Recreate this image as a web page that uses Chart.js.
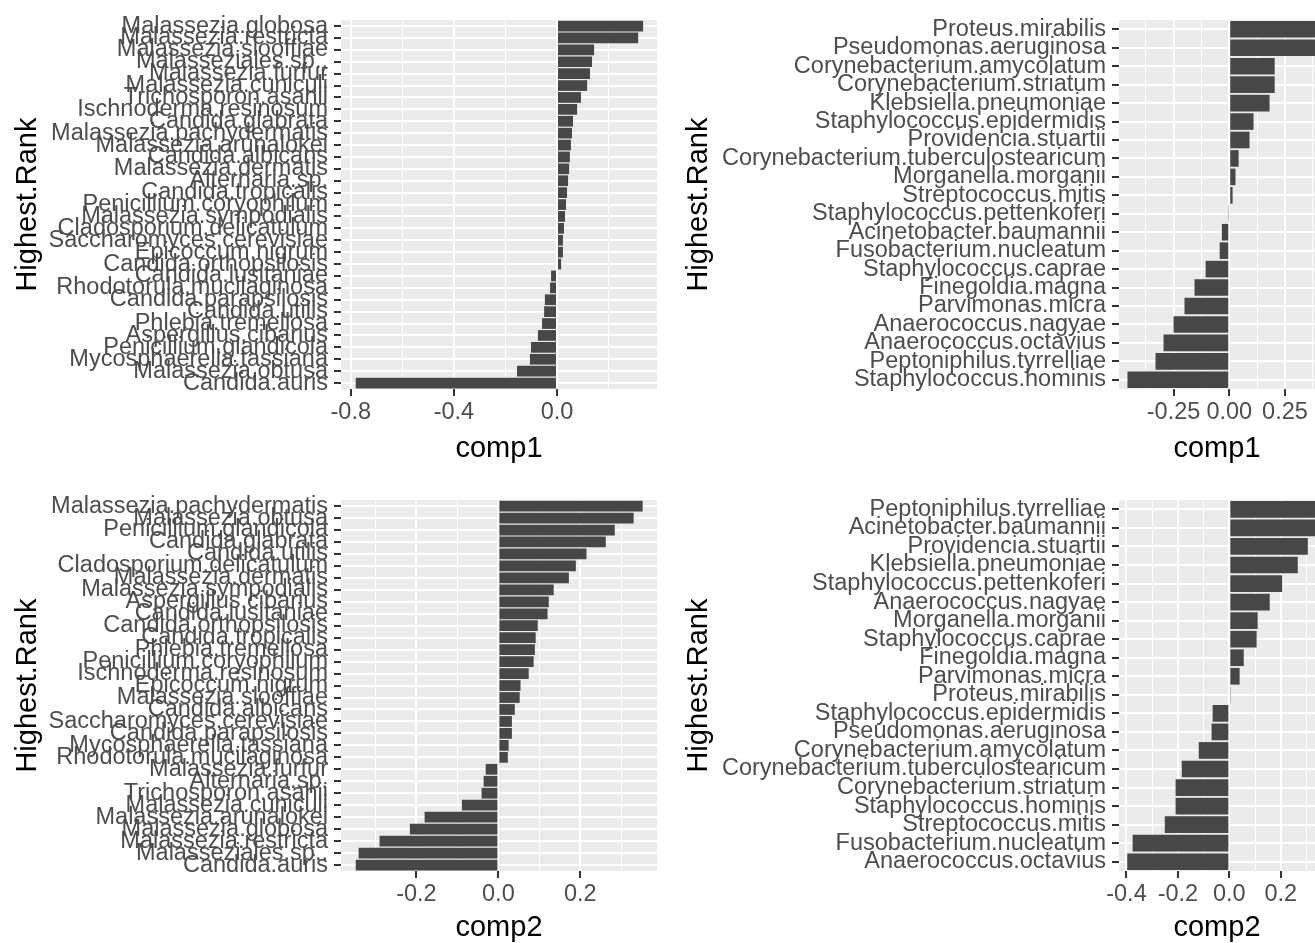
<!DOCTYPE html>
<html>
<head>
<meta charset="utf-8">
<script src="https://cdn.jsdelivr.net/npm/chart.js@4.4.1/dist/chart.umd.min.js"></script>
<style>
body { margin: 0; background: #fff; overflow: hidden; width: 1315px; height: 943px; position: relative; }
canvas { position: absolute; }
</style>
</head>
<body>
<canvas id="fungiComp1" width="660" height="470" style="left:0;top:0"></canvas>
<canvas id="bactComp1" width="655" height="470" style="left:660px;top:0"></canvas>
<canvas id="fungiComp2" width="660" height="470" style="left:0;top:480px"></canvas>
<canvas id="bactComp2" width="655" height="470" style="left:660px;top:480px"></canvas>
<script>
// fungi, comp1 (top to bottom)
const fungiComp1Labels = ['Malassezia.globosa', 'Malassezia.restricta', 'Malassezia.slooffiae', 'Malasseziales.sp..',
    'Malassezia.furfur', 'Malassezia.cuniculi', 'Trichosporon.asahii', 'Ischnoderma.resinosum', 'Candida.glabrata',
    'Malassezia.pachydermatis', 'Malassezia.arunalokei', 'Candida.albicans', 'Malassezia.dermatis', 'Alternaria.sp.',
    'Candida.tropicalis', 'Penicillium.coryophilum', 'Malassezia.sympodialis', 'Cladosporium.delicatulum',
    'Saccharomyces.cerevisiae', 'Epicoccum.nigrum', 'Candida.orthopsilosis', 'Candida.lusitaniae',
    'Rhodotorula.mucilaginosa', 'Candida.parapsilosis', 'Candida.utilis', 'Phlebia.tremellosa', 'Aspergillus.cibarius',
    'Penicillium.glandicola', 'Mycosphaerella.tassiana', 'Malassezia.obtusa', 'Candida.auris'];
const fungiComp1Values = [0.334, 0.315, 0.144, 0.136, 0.128, 0.117, 0.093, 0.078, 0.062, 0.058, 0.054, 0.050, 0.047,
    0.043, 0.039, 0.035, 0.031, 0.027, 0.023, 0.023, 0.016, -0.023, -0.027, -0.047, -0.050, -0.058, -0.074, -0.101,
    -0.105, -0.155, -0.781];

// fungi, comp2
const fungiComp2Labels = ['Malassezia.pachydermatis', 'Malassezia.obtusa', 'Penicillium.glandicola', 'Candida.glabrata',
    'Candida.utilis', 'Cladosporium.delicatulum', 'Malassezia.dermatis', 'Malassezia.sympodialis', 'Aspergillus.cibarius',
    'Candida.lusitaniae', 'Candida.orthopsilosis', 'Candida.tropicalis', 'Phlebia.tremellosa', 'Penicillium.coryophilum',
    'Ischnoderma.resinosum', 'Epicoccum.nigrum', 'Malassezia.slooffiae', 'Candida.albicans', 'Saccharomyces.cerevisiae',
    'Candida.parapsilosis', 'Mycosphaerella.tassiana', 'Rhodotorula.mucilaginosa', 'Malassezia.furfur', 'Alternaria.sp.',
    'Trichosporon.asahii', 'Malassezia.cuniculi', 'Malassezia.arunalokei', 'Malassezia.globosa', 'Malassezia.restricta',
    'Malasseziales.sp..', 'Candida.auris'];
const fungiComp2Values = [0.352, 0.330, 0.284, 0.262, 0.215, 0.189, 0.172, 0.135, 0.123, 0.120, 0.096, 0.091, 0.089,
    0.086, 0.074, 0.054, 0.052, 0.040, 0.033, 0.033, 0.025, 0.023, -0.031, -0.036, -0.041, -0.089, -0.180, -0.216,
    -0.290, -0.341, -0.348];

// bacteria, comp1
const bactComp1Labels = ['Proteus.mirabilis', 'Pseudomonas.aeruginosa', 'Corynebacterium.amycolatum',
    'Corynebacterium.striatum', 'Klebsiella.pneumoniae', 'Staphylococcus.epidermidis', 'Providencia.stuartii',
    'Corynebacterium.tuberculostearicum', 'Morganella.morganii', 'Streptococcus.mitis', 'Staphylococcus.pettenkoferi',
    'Acinetobacter.baumannii', 'Fusobacterium.nucleatum', 'Staphylococcus.caprae', 'Finegoldia.magna',
    'Parvimonas.micra', 'Anaerococcus.nagyae', 'Anaerococcus.octavius', 'Peptoniphilus.tyrrelliae',
    'Staphylococcus.hominis'];
const bactComp1Values = [0.47, 0.43, 0.204, 0.204, 0.181, 0.109, 0.091, 0.042, 0.028, 0.015, -0.003, -0.033, -0.043,
    -0.106, -0.156, -0.201, -0.250, -0.295, -0.331, -0.457];

// bacteria, comp2
const bactComp2Labels = ['Peptoniphilus.tyrrelliae', 'Acinetobacter.baumannii', 'Providencia.stuartii',
    'Klebsiella.pneumoniae', 'Staphylococcus.pettenkoferi', 'Anaerococcus.nagyae', 'Morganella.morganii',
    'Staphylococcus.caprae', 'Finegoldia.magna', 'Parvimonas.micra', 'Proteus.mirabilis', 'Staphylococcus.epidermidis',
    'Pseudomonas.aeruginosa', 'Corynebacterium.amycolatum', 'Corynebacterium.tuberculostearicum',
    'Corynebacterium.striatum', 'Staphylococcus.hominis', 'Streptococcus.mitis', 'Fusobacterium.nucleatum',
    'Anaerococcus.octavius'];
const bactComp2Values = [0.37, 0.35, 0.305, 0.266, 0.205, 0.157, 0.110, 0.106, 0.056, 0.040, 0.005, -0.065, -0.069,
    -0.119, -0.185, -0.209, -0.209, -0.251, -0.376, -0.397];

// x axis ticks
const fungiComp1Major = [-0.8, -0.4, 0.0];
const fungiComp1TickLabels = ['-0.8', '-0.4', '0.0'];
const fungiComp1Minor = [-0.6, -0.2, 0.2];
const fungiComp2Major = [-0.2, 0.0, 0.2];
const fungiComp2TickLabels = ['-0.2', '0.0', '0.2'];
const fungiComp2Minor = [-0.3, -0.1, 0.1, 0.3];
const bactComp1Major = [-0.25, 0.0, 0.25];
const bactComp1TickLabels = ['-0.25', '0.00', '0.25'];
const bactComp1Minor = [-0.375, -0.125, 0.125, 0.375];
const bactComp2Major = [-0.4, -0.2, 0.0, 0.2];
const bactComp2TickLabels = ['-0.4', '-0.2', '0.0', '0.2'];
const bactComp2Minor = [-0.3, -0.1, 0.1, 0.3];

const FONT = '"Liberation Sans", Arial, Helvetica, sans-serif';

// grey panel behind the bars
const panelBackground = {
    id: 'panelBackground',
    beforeDraw(chart) {
        const { ctx, chartArea } = chart;
        ctx.save();
        ctx.fillStyle = '#EBEBEB';
        ctx.fillRect(chartArea.left, chartArea.top, chartArea.right - chartArea.left, chartArea.bottom - chartArea.top);
        ctx.restore();
    }
};

function buildTicks(major, majorLabels, minor) {
    let ticks = major.map((v, i) => ({ value: v, major: true, txt: majorLabels[i] }));
    ticks = ticks.concat(minor.map(v => ({ value: v, major: false, txt: '' })));
    ticks.sort((a, b) => a.value - b.value);
    return ticks;
}

function drawLoadings(canvasId, labels, values, xTicks, xTitle, box) {
    const ctx = document.getElementById(canvasId).getContext('2d');
    new Chart(ctx, {
        type: 'bar',
        data: {
            labels: labels,
            datasets: [{
                data: values,
                backgroundColor: '#474747',
                borderWidth: 0,
                categoryPercentage: 0.9,
                barPercentage: 1.0,
                clip: 0
            }]
        },
        options: {
            indexAxis: 'y',
            responsive: false,
            devicePixelRatio: 1,
            animation: false,
            layout: { padding: { top: box.top, right: box.right, left: 0, bottom: 0 } },
            plugins: { legend: { display: false }, tooltip: { enabled: false } },
            scales: {
                x: {
                    type: 'linear',
                    min: box.min,
                    max: box.max,
                    afterBuildTicks: (scale) => { scale.ticks = xTicks.map(t => Object.assign({}, t)); },
                    afterFit: (scale) => { scale.height = box.xHeight; },
                    border: { display: false },
                    grid: {
                        color: '#FFFFFF',
                        lineWidth: (c) => (c.tick && c.tick.major ? 2 : 1),
                        tickColor: (c) => (c.tick && c.tick.major ? '#333333' : 'rgba(0,0,0,0)'),
                        tickWidth: 2,
                        tickLength: 7
                    },
                    ticks: {
                        autoSkip: false,
                        maxRotation: 0,
                        padding: 2,
                        color: '#4D4D4D',
                        font: { family: FONT, size: 23.5 },
                        callback: (value, index, ticks) => ticks[index].txt
                    },
                    title: {
                        display: true,
                        text: xTitle,
                        color: '#000000',
                        font: { family: FONT, size: 29 },
                        padding: { top: 0, bottom: box.xTitlePad }
                    }
                },
                y: {
                    type: 'category',
                    offset: true,
                    afterFit: (scale) => { scale.width = box.yWidth; },
                    border: { display: false },
                    grid: {
                        offset: false,
                        color: '#FFFFFF',
                        lineWidth: 2,
                        tickColor: '#333333',
                        tickWidth: 2,
                        tickLength: 7
                    },
                    ticks: {
                        autoSkip: false,
                        padding: 6,
                        color: '#4D4D4D',
                        font: { family: FONT, size: 23.5 }
                    },
                    title: {
                        display: true,
                        text: 'Highest.Rank',
                        color: '#000000',
                        font: { family: FONT, size: 29 },
                        padding: { top: box.yTitlePad, bottom: 0 }
                    }
                }
            }
        },
        plugins: [panelBackground]
    });
}

drawLoadings('fungiComp1', fungiComp1Labels, fungiComp1Values,
    buildTicks(fungiComp1Major, fungiComp1TickLabels, fungiComp1Minor), 'comp1',
    { min: -0.838, max: 0.388, top: 8, right: 3, yWidth: 341, xHeight: 81, xTitlePad: 4, yTitlePad: 11 });

drawLoadings('bactComp1', bactComp1Labels, bactComp1Values,
    buildTicks(bactComp1Major, bactComp1TickLabels, bactComp1Minor), 'comp1',
    { min: -0.495, max: 0.385, top: 8, right: 0, yWidth: 459, xHeight: 81, xTitlePad: 4, yTitlePad: 22 });

drawLoadings('fungiComp2', fungiComp2Labels, fungiComp2Values,
    buildTicks(fungiComp2Major, fungiComp2TickLabels, fungiComp2Minor), 'comp2',
    { min: -0.384, max: 0.387, top: 9, right: 3, yWidth: 341, xHeight: 79, xTitlePad: 5, yTitlePad: 11 });

drawLoadings('bactComp2', bactComp2Labels, bactComp2Values,
    buildTicks(bactComp2Major, bactComp2TickLabels, bactComp2Minor), 'comp2',
    { min: -0.429, max: 0.333, top: 9, right: 0, yWidth: 459, xHeight: 79, xTitlePad: 5, yTitlePad: 22 });
</script>
</body>
</html>
